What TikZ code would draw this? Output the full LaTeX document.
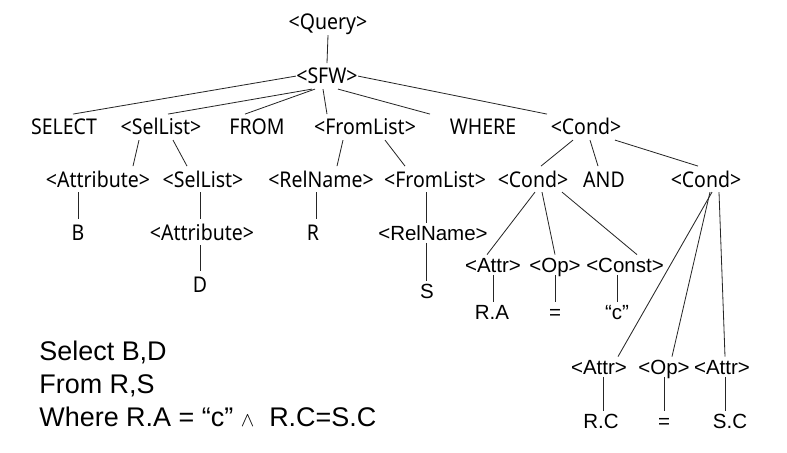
\documentclass[tikz,border=0pt]{standalone}
\usepackage{fontspec}
\usetikzlibrary{positioning,calc}
\newfontfamily\tahfont[FakeStretch=0.9]{Noto Sans}
\newfontfamily\arifont{Liberation Sans}
\tikzset{
  up/.style={font=\tahfont\fontsize{18.5}{21}\selectfont, anchor=base, inner xsep=0pt, inner ysep=4pt, text height=13.5pt, text depth=0pt},
  lo/.style={font=\arifont\fontsize{17.5}{20}\selectfont, anchor=base, inner xsep=0pt, inner ysep=2pt, text height=12.5pt, text depth=0pt},
  qt/.style={font=\arifont\fontsize{23}{27.6}\selectfont, inner sep=0pt, text height=20pt, text depth=7.6pt},
  node distance=0pt
}
\begin{document}
\begin{tikzpicture}[x=0.03cm, y=-0.03cm, line width=0.7pt, draw=black!85]
	\useasboundingbox (0,0) rectangle (787,453);
	\node[up] (query) at (328,30) {<Query>};
	\node[up] (sfw) at (327,84) {<SFW>};
	%
	\node[up] (select) at (64,135) {SELECT};
	\node[up] (sellist) at (161,135) {<SelList>};
	\node[up] (from) at (257,135) {FROM};
	\node[up] (fromlist) at (365,135) {<FromList>};
	\node[up] (where) at (483,135) {WHERE};
	\node[up] (cond) at (586,135) {<Cond>};
	%
	\node[up] (attribute) at (98,187) {<Attribute>};
	\node[up] (sellisttwo) at (203,187) {<SelList>};
	\node[up] (relname) at (321,187) {<RelName>};
	\node[up] (fromlisttwo) at (435,187) {<FromList>};
	\node[up] (condleft) at (533,187) {<Cond>};
	\node[up] (and) at (604,187) {AND};
	\node[up] (condright) at (706,187) {<Cond>};
	%
	\node[up] (b) at (78,240) {B};
	\node[up] (attributetwo) at (202,240) {<Attribute>};
	\node[up] (r) at (313,240) {R};
	\node[lo] (relnametwo) at (433,240) {<RelName>};
	\node[up] (d) at (200,292) {D};
	\node[lo] (s) at (427,298) {S};
	%
	\node[lo] (attr) at (493,272) {<Attr>};
	\node[lo] (op) at (555,272) {<Op>};
	\node[lo] (const) at (625,272) {<Const>};
	\node[lo] (ra) at (492,319) {R.A};
	\node[lo] (eqone) at (555,319) {=};
	\node[lo] (c) at (617,319) {“c”};
	%
	\node[lo] (attrtwo) at (599,374) {<Attr>};
	\node[lo] (optwo) at (664,374) {<Op>};
	\node[lo] (attrthree) at (722,374) {<Attr>};
	\node[lo] (rc) at (601,428) {R.C};
	\node[lo] (eqtwo) at (664,428) {=};
	\node[lo] (sc) at (730,428) {S.C};
	%
	\node[qt, anchor=base west] (selq) at (39,360) {Select B,D};
	\node[qt, below=0pt of selq.south west, anchor=north west] (fromq) {From R,S};
	\node[qt, below=0pt of fromq.south west, anchor=north west] (whereq) {Where R.A = “c” {\fontsize{19}{19}\selectfont$\wedge$}\ \ R.C=S.C};
	%
	\draw (query.south) -- (sfw.north);
	\draw (sfw.west) -- ($(select.north)+(9,0)$);
	\draw ($(sfw.south)+(-15,0)$) -- ($(sellist.north)+(7,0)$);
	\draw ($(sfw.south)+(-12,0)$) -- ($(from.north)+(-12,0)$);
	\draw ($(sfw.south)+(-4,0)$) -- ($(fromlist.north)+(-38,0)$);
	\draw ($(sfw.south)+(11,0)$) -- ($(where.north)+(-53,0)$);
	\draw (sfw.east) -- ($(cond.north)+(-39,0)$);
	\draw ($(sellist.south)+(-22,0)$) -- ($(attribute.north)+(35,0)$);
	\draw ($(sellist.south)+(12,0)$) -- ($(sellisttwo.north)+(-16,0)$);
	\draw ($(fromlist.south)+(-22,0)$) -- ($(relname.north)+(16,0)$);
	\draw ($(fromlist.south)+(20,0)$) -- ($(fromlisttwo.north)+(-30,0)$);
	\draw ($(cond.south)+(-13,0)$) -- ($(condleft.north)+(8,0)$);
	\draw ($(cond.south)+(4,0)$) -- ($(and.north)+(-6,0)$);
	\draw ($(cond.south)+(29,0)$) -- ($(condright.north)+(-8,0)$);
	\draw ($(attribute.south)+(-20,0)$) -- (b.north);
	\draw ($(sellisttwo.south)+(-3,0)$) -- ($(attributetwo.north)+(-2,0)$);
	\draw ($(relname.south)+(-5,0)$) -- ($(r.north)+(3,0)$);
	\draw ($(attributetwo.south)+(-2,0)$) -- (d.north);
	\draw ($(fromlisttwo.south)+(-9,0)$) -- ($(relnametwo.north)+(-7,0)$);
	\draw ($(relnametwo.south)+(-7,0)$) -- ($(s.north)+(-1,0)$);
	\draw ($(condleft.south)+(2,0)$) -- ($(attr.north)+(-6,0)$);
	\draw ($(condleft.south)+(9,0)$) -- (op.north);
	\draw ($(condleft.south)+(29,0)$) -- ($(const.north)+(12,0)$);
	\draw (attr.south) -- ($(ra.north)+(1,0)$);
	\draw (op.south) -- (eqone.north);
	\draw ($(const.south)+(-8,0)$) -- (c.north);
	\draw ($(condright.south)+(6,0)$) -- ($(attrtwo.north)+(19,0)$);
	\draw ($(condright.south)+(4,0)$) -- ($(optwo.north)+(8,0)$);
	\draw ($(condright.south)+(13,0)$) -- ($(attrthree.north)+(3,0)$);
	\draw ($(attrtwo.south)+(4,0)$) -- ($(rc.north)+(2,0)$);
	\draw (optwo.south) -- (eqtwo.north);
	\draw ($(attrthree.south)+(3,0)$) -- ($(sc.north)+(-5,0)$);
\end{tikzpicture}
\end{document}
